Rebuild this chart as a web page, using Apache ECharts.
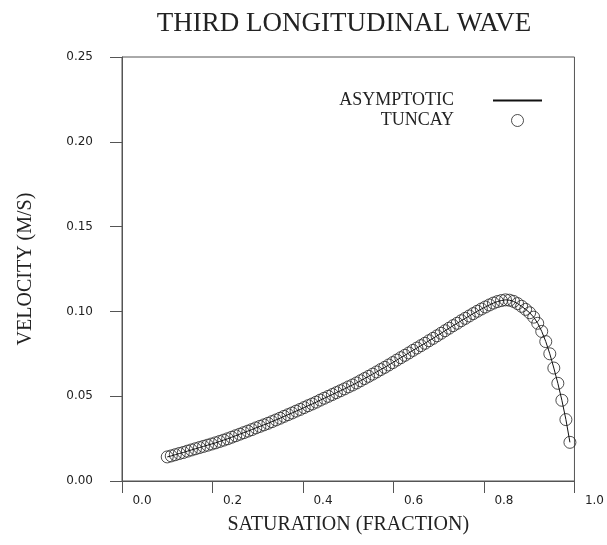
<!DOCTYPE html>
<html>
<head>
<meta charset="utf-8">
<script src="https://cdn.jsdelivr.net/npm/echarts@6/dist/echarts.min.js"></script>
<style>html,body{margin:0;padding:0;background:#fff;}#c{width:607px;height:545px;}</style>
</head>
<body>
<div id="c"></div>
<script>
const titleText = 'THIRD LONGITUDINAL WAVE';
const xName = 'SATURATION (FRACTION)';
const yName = 'VELOCITY (M/S)';
const seriesNames = ['ASYMPTOTIC', 'TUNCAY'];
const xTicks = [0.0, 0.2, 0.4, 0.6, 0.8, 1.0];
const yTicks = [0.00, 0.05, 0.10, 0.15, 0.20, 0.25];

const saturation = [
  0.1000,0.1089,0.1178,0.1267,0.1356,0.1445,0.1534,0.1623,0.1712,0.1801,
  0.1890,0.1979,0.2068,0.2157,0.2246,0.2335,0.2424,0.2513,0.2602,0.2691,
  0.2780,0.2869,0.2958,0.3047,0.3136,0.3225,0.3314,0.3403,0.3492,0.3581,
  0.3670,0.3759,0.3848,0.3937,0.4026,0.4115,0.4204,0.4293,0.4382,0.4471,
  0.4560,0.4649,0.4738,0.4827,0.4916,0.5005,0.5094,0.5183,0.5272,0.5361,
  0.5450,0.5539,0.5628,0.5717,0.5806,0.5895,0.5984,0.6073,0.6162,0.6251,
  0.6340,0.6429,0.6518,0.6607,0.6696,0.6785,0.6874,0.6963,0.7052,0.7141,
  0.7230,0.7319,0.7408,0.7497,0.7586,0.7675,0.7764,0.7853,0.7942,0.8031,
  0.8120,0.8209,0.8298,0.8387,0.8476,0.8565,0.8654,0.8743,0.8832,0.8921,
  0.9010,0.9099,0.9188,0.9277,0.9366,0.9455,0.9544,0.9633,0.9722,0.9811,
  0.9900
];
const velocity = [
  0.0142,0.0148,0.0155,0.0162,0.0168,0.0176,0.0183,0.0190,0.0197,0.0204,
  0.0211,0.0218,0.0225,0.0233,0.0241,0.0249,0.0258,0.0267,0.0276,0.0285,
  0.0294,0.0303,0.0313,0.0322,0.0331,0.0340,0.0350,0.0360,0.0370,0.0381,
  0.0391,0.0401,0.0412,0.0422,0.0433,0.0444,0.0454,0.0465,0.0477,0.0488,
  0.0499,0.0510,0.0521,0.0532,0.0543,0.0555,0.0566,0.0578,0.0591,0.0604,
  0.0617,0.0630,0.0643,0.0657,0.0670,0.0684,0.0698,0.0713,0.0727,0.0741,
  0.0755,0.0770,0.0784,0.0798,0.0812,0.0827,0.0841,0.0856,0.0871,0.0886,
  0.0901,0.0916,0.0930,0.0945,0.0959,0.0973,0.0987,0.1001,0.1014,0.1026,
  0.1038,0.1049,0.1058,0.1064,0.1068,0.1066,0.1059,0.1046,0.1030,0.1012,
  0.0992,0.0966,0.0930,0.0882,0.0822,0.0750,0.0666,0.0576,0.0476,0.0362,
  0.0228
];

const pts = saturation.map((s, i) => [s, velocity[i]]);
const serif = 'Liberation Serif';
const axisColor = '#555';

const chart = echarts.init(document.getElementById('c'), null, {renderer: 'canvas'});
chart.setOption({
  animation: false,
  backgroundColor: '#fff',
  title: {
    text: titleText, left: 339, top: 5, textAlign: 'center',
    textStyle: {fontFamily: serif, fontSize: 27, fontWeight: 'normal', color: '#222'}
  },
  legend: {
    orient: 'vertical', right: 64, top: 91, align: 'right', padding: 0,
    itemWidth: 49, itemHeight: 12, itemGap: 1,
    textStyle: {fontFamily: serif, fontSize: 18, color: '#222', lineHeight: 19, padding: [0, 34, 0, 0]},
    data: [
      {name: seriesNames[0], itemStyle: {color: 'rgba(0,0,0,0)', borderColor: 'rgba(0,0,0,0)', borderWidth: 0}},
      {name: seriesNames[1], icon: 'circle', itemStyle: {color: 'rgba(0,0,0,0)', borderColor: '#222', borderWidth: 1}}
    ]
  },
  grid: {left: 122, right: 32, top: 57, bottom: 64, show: true, borderColor: axisColor, borderWidth: 1, backgroundColor: 'transparent'},
  xAxis: {
    type: 'value', min: 0, max: 1, interval: 0.2,
    name: xName, nameLocation: 'middle', nameGap: 34,
    nameTextStyle: {fontFamily: serif, fontSize: 20, color: '#222'},
    axisLine: {show: true, onZero: false, lineStyle: {color: axisColor, width: 1}},
    axisTick: {show: true, inside: false, length: 12, lineStyle: {color: axisColor, width: 1}},
    axisLabel: {margin: 14, fontFamily: 'DejaVu Sans', fontSize: 12, color: '#222', padding: [0, 0, 0, 40],
      formatter: v => v.toFixed(1)},
    splitLine: {show: false}
  },
  yAxis: {
    type: 'value', min: 0, max: 0.25, interval: 0.05,
    name: yName, nameLocation: 'middle', nameGap: 86, nameRotate: 90,
    nameTextStyle: {fontFamily: serif, fontSize: 20, color: '#222'},
    axisLine: {show: true, onZero: false, lineStyle: {color: axisColor, width: 1}},
    axisTick: {show: true, inside: false, length: 12, lineStyle: {color: axisColor, width: 1}},
    axisLabel: {margin: 29, fontFamily: 'DejaVu Sans', fontSize: 12, color: '#222',
      formatter: v => v.toFixed(2)},
    splitLine: {show: false}
  },
  series: [
    {
      name: seriesNames[0], type: 'line', data: pts, showSymbol: false, symbol: 'none',
      lineStyle: {color: '#111', width: 1}, itemStyle: {color: '#111'}, z: 3
    },
    {
      name: seriesNames[1], type: 'scatter', data: pts, symbol: 'circle', symbolSize: 12,
      itemStyle: {color: 'rgba(0,0,0,0)', borderColor: '#222', borderWidth: 1}, z: 2
    }
  ]
});
</script>
</body>
</html>
